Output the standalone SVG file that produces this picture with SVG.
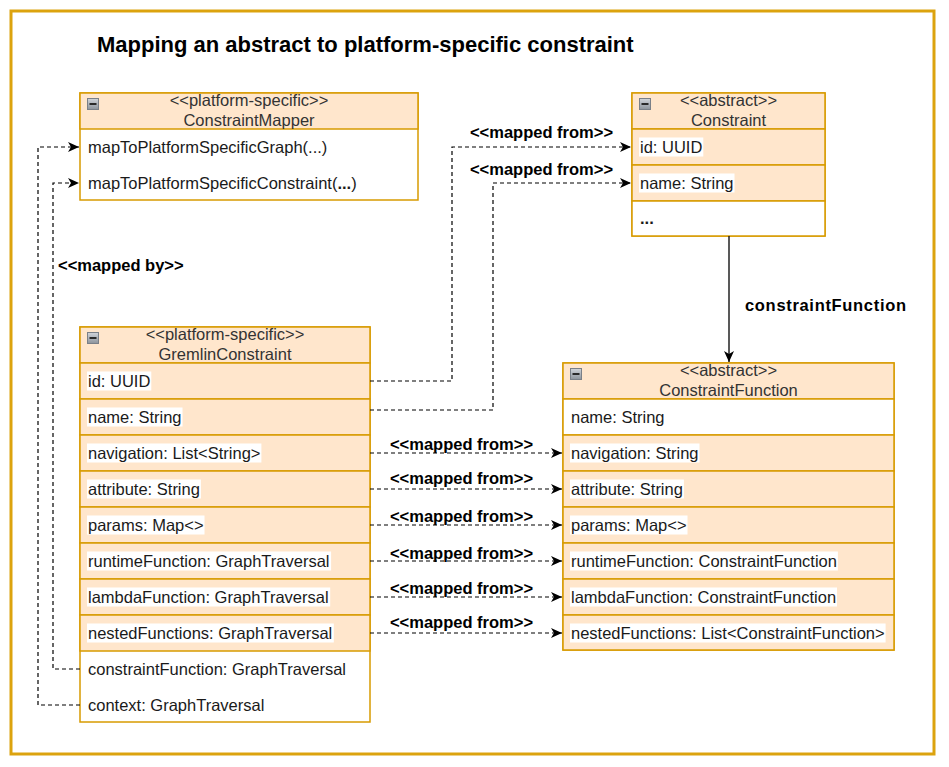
<svg xmlns="http://www.w3.org/2000/svg" width="949" height="767" viewBox="0 0 949 767">
<defs>
  <linearGradient id="ig" x1="0" y1="0" x2="0" y2="1">
    <stop offset="0" stop-color="#d0d4da"/>
    <stop offset="1" stop-color="#8d949c"/>
  </linearGradient>
  <marker id="arr" markerWidth="12" markerHeight="10" refX="11" refY="5" orient="auto" markerUnits="userSpaceOnUse">
    <path d="M0,0 L11,5 L0,10 L3,5 Z" fill="#000"/>
  </marker>
  <g id="icon">
    <rect x="0.5" y="0.5" width="11" height="11" fill="url(#ig)" stroke="#7a8088" stroke-width="1"/>
    <rect x="2.5" y="5" width="7" height="2" fill="#2a2a2a"/>
  </g>
</defs>
<style>
  text { font-family: "Liberation Sans", Arial, sans-serif; font-size: 16.5px; fill: #1a1a1a; }
  .title { font-size: 22px; font-weight: bold; fill: #000; }
  .lbl { font-weight: bold; fill: #000; }
  .hd { text-anchor: middle; fill: #333; }
  .hdr { fill: #ffe6cc; stroke: #d79b00; stroke-width: 1.5; }
  .row { fill: #ffe6cc; stroke: #d79b00; stroke-width: 1.5; }
  .wrow { fill: #ffffff; stroke: #d79b00; stroke-width: 1.5; }
  .hl { fill: #ffffff; }
  .dash { fill: none; stroke: #000; stroke-width: 1.2; stroke-dasharray: 4 3; marker-end: url(#arr); }
  .solid { fill: none; stroke: #222; stroke-width: 1.5; marker-end: url(#arr); }
</style>

<rect x="0" y="0" width="949" height="767" fill="#ffffff"/>
<rect x="11" y="11" width="923" height="743" fill="none" stroke="#dca30e" stroke-width="3"/>
<text class="title" x="97" y="52">Mapping an abstract to platform-specific constraint</text>

<g id="ConstraintMapper">
  <rect class="wrow" x="80" y="93" width="338" height="107"/>
  <rect class="hdr" x="80" y="93" width="338" height="36"/>
  <use href="#icon" x="87" y="98"/>
  <text class="hd" x="249" y="106">&lt;&lt;platform-specific&gt;&gt;</text>
  <text class="hd" x="249" y="126">ConstraintMapper</text>
  <text x="88" y="153">mapToPlatformSpecificGraph(...)</text>
  <text x="88" y="189">mapToPlatformSpecificConstraint(<tspan font-weight="bold">...</tspan>)</text>
</g>

<g id="Constraint">
  <rect class="wrow" x="632" y="93" width="193" height="143"/>
  <rect class="hdr" x="632" y="93" width="193" height="36"/>
  <use href="#icon" x="639" y="98"/>
  <text class="hd" x="728.5" y="106">&lt;&lt;abstract&gt;&gt;</text>
  <text class="hd" x="728.5" y="126">Constraint</text>
  <rect class="row" x="632" y="129" width="193" height="36"/>
  <rect class="hl" x="639" y="137.5" width="64.3" height="19"/>
  <text x="640" y="153">id: UUID</text>
  <rect class="row" x="632" y="165" width="193" height="36"/>
  <rect class="hl" x="639" y="173.5" width="95.5" height="19"/>
  <text x="640" y="189">name: String</text>
  <rect class="wrow" x="632" y="201" width="193" height="35"/>
  <text x="640" y="224" font-weight="bold">...</text>
</g>

<g id="GremlinConstraint">
  <rect class="wrow" x="80" y="327" width="290" height="395"/>
  <rect class="hdr" x="80" y="327" width="290" height="36"/>
  <use href="#icon" x="87" y="332"/>
  <text class="hd" x="225" y="340">&lt;&lt;platform-specific&gt;&gt;</text>
  <text class="hd" x="225" y="360">GremlinConstraint</text>
  <rect class="row" x="80" y="363" width="290" height="36"/>
  <rect class="hl" x="87" y="371.5" width="64.3" height="19"/>
  <text x="88" y="387">id: UUID</text>
  <rect class="row" x="80" y="399" width="290" height="36"/>
  <rect class="hl" x="87" y="407.5" width="95.5" height="19"/>
  <text x="88" y="423">name: String</text>
  <rect class="row" x="80" y="435" width="290" height="36"/>
  <rect class="hl" x="87" y="443.5" width="174.4" height="19"/>
  <text x="88" y="459">navigation: List&lt;String&gt;</text>
  <rect class="row" x="80" y="471" width="290" height="36"/>
  <rect class="hl" x="87" y="479.5" width="113.9" height="19"/>
  <text x="88" y="495">attribute: String</text>
  <rect class="row" x="80" y="507" width="290" height="36"/>
  <rect class="hl" x="87" y="515.5" width="117.5" height="19"/>
  <text x="88" y="531">params: Map&lt;&gt;</text>
  <rect class="row" x="80" y="543" width="290" height="36"/>
  <rect class="hl" x="87" y="551.5" width="244.1" height="19"/>
  <text x="88" y="567">runtimeFunction: GraphTraversal</text>
  <rect class="row" x="80" y="579" width="290" height="36"/>
  <rect class="hl" x="87" y="587.5" width="243.2" height="19"/>
  <text x="88" y="603">lambdaFunction: GraphTraversal</text>
  <rect class="row" x="80" y="615" width="290" height="36"/>
  <rect class="hl" x="87" y="623.5" width="246.8" height="19"/>
  <text x="88" y="639">nestedFunctions: GraphTraversal</text>
  <text x="88" y="675">constraintFunction: GraphTraversal</text>
  <text x="88" y="711">context: GraphTraversal</text>
</g>

<g id="ConstraintFunction">
  <rect class="wrow" x="563" y="363" width="331" height="287"/>
  <rect class="hdr" x="563" y="363" width="331" height="36"/>
  <use href="#icon" x="570" y="368"/>
  <text class="hd" x="728.5" y="376">&lt;&lt;abstract&gt;&gt;</text>
  <text class="hd" x="728.5" y="396">ConstraintFunction</text>
  <rect class="wrow" x="563" y="399" width="331" height="36"/>
  <text x="571" y="423">name: String</text>
  <rect class="row" x="563" y="435" width="331" height="36"/>
  <rect class="hl" x="570" y="443.5" width="129.5" height="19"/>
  <text x="571" y="459">navigation: String</text>
  <rect class="row" x="563" y="471" width="331" height="36"/>
  <rect class="hl" x="570" y="479.5" width="113.9" height="19"/>
  <text x="571" y="495">attribute: String</text>
  <rect class="row" x="563" y="507" width="331" height="36"/>
  <rect class="hl" x="570" y="515.5" width="117.5" height="19"/>
  <text x="571" y="531">params: Map&lt;&gt;</text>
  <rect class="row" x="563" y="543" width="331" height="36"/>
  <rect class="hl" x="570" y="551.5" width="267.9" height="19"/>
  <text x="571" y="567">runtimeFunction: ConstraintFunction</text>
  <rect class="row" x="563" y="579" width="331" height="36"/>
  <rect class="hl" x="570" y="587.5" width="267" height="19"/>
  <text x="571" y="603">lambdaFunction: ConstraintFunction</text>
  <rect class="row" x="563" y="615" width="331" height="35"/>
  <rect class="hl" x="570" y="623.5" width="315.6" height="19"/>
  <text x="571" y="639">nestedFunctions: List&lt;ConstraintFunction&gt;</text>
</g>

<g id="connectors">
  <path class="dash" d="M370,381 H452 V147 H631"/>
  <path class="dash" d="M370,410 H493 V183 H631"/>
  <path class="dash" d="M370,453 H562"/>
  <path class="dash" d="M370,489 H562"/>
  <path class="dash" d="M370,525 H562"/>
  <path class="dash" d="M370,561 H562"/>
  <path class="dash" d="M370,597 H562"/>
  <path class="dash" d="M370,633 H562"/>
  <path class="dash" d="M80,669 H53 V183 H79"/>
  <path class="dash" d="M80,705 H38 V147 H79"/>
  <path class="solid" d="M729,236 V362"/>
</g>

<g id="connector-labels">
  <text class="lbl" x="541.5" y="138" text-anchor="middle">&lt;&lt;mapped from&gt;&gt;</text>
  <text class="lbl" x="541.5" y="175" text-anchor="middle">&lt;&lt;mapped from&gt;&gt;</text>
  <text class="lbl" x="461.5" y="450" text-anchor="middle">&lt;&lt;mapped from&gt;&gt;</text>
  <text class="lbl" x="461.5" y="484" text-anchor="middle">&lt;&lt;mapped from&gt;&gt;</text>
  <text class="lbl" x="461.5" y="522" text-anchor="middle">&lt;&lt;mapped from&gt;&gt;</text>
  <text class="lbl" x="461.5" y="559" text-anchor="middle">&lt;&lt;mapped from&gt;&gt;</text>
  <text class="lbl" x="461.5" y="594" text-anchor="middle">&lt;&lt;mapped from&gt;&gt;</text>
  <text class="lbl" x="461.5" y="628" text-anchor="middle">&lt;&lt;mapped from&gt;&gt;</text>
  <text class="lbl" x="58" y="271">&lt;&lt;mapped by&gt;&gt;</text>
  <text class="lbl" x="745" y="311" textLength="161" lengthAdjust="spacing">constraintFunction</text>
</g>
</svg>
